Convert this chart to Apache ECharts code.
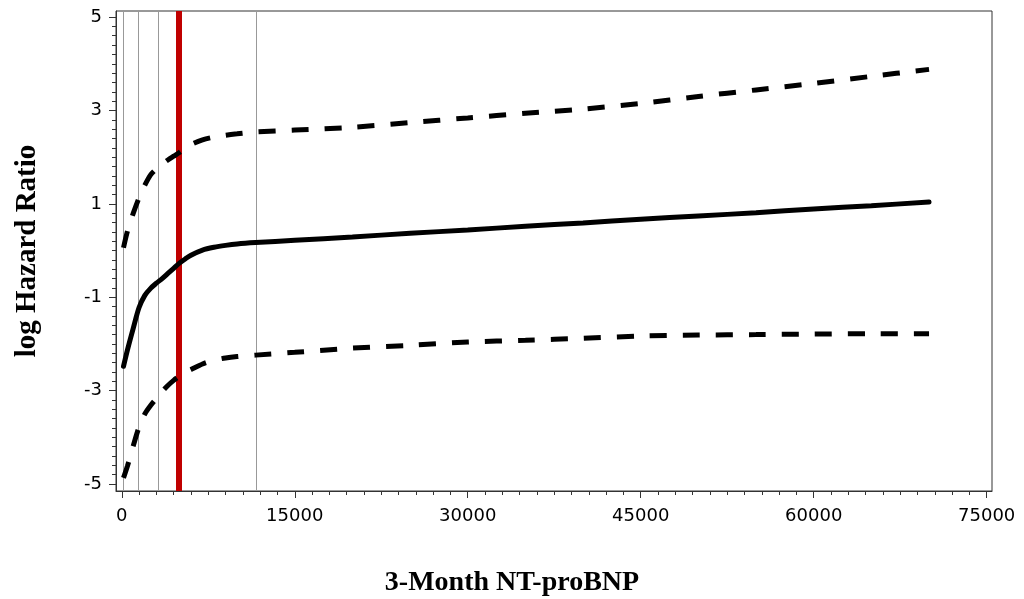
<!DOCTYPE html>
<html>
<head>
<meta charset="utf-8">
<script src="https://cdn.jsdelivr.net/npm/echarts@6/dist/echarts.min.js"></script>
<style>
html,body{margin:0;padding:0;background:#fff;}
#c{width:1024px;height:599px;}
</style>
</head>
<body>
<div id="c"></div>
<script>
// ---- data ----
const ntprobnp = [150, 500, 1000, 1500, 2000, 2500, 3000, 3500, 4000, 4500, 5000, 5500, 6000, 7000, 8000, 9000, 10000, 11600, 15000, 20000, 25000, 30000, 35000, 40000, 45000, 50000, 55000, 60000, 65000, 70000];
const logHR    = [-2.48, -2.12, -1.66, -1.22, -0.96, -0.81, -0.70, -0.60, -0.49, -0.38, -0.27, -0.18, -0.10, 0.01, 0.07, 0.11, 0.14, 0.17, 0.22, 0.29, 0.37, 0.44, 0.52, 0.59, 0.67, 0.74, 0.81, 0.89, 0.96, 1.04];
const upperCI  = [0.06, 0.42, 0.80, 1.13, 1.40, 1.62, 1.75, 1.85, 1.94, 2.02, 2.10, 2.19, 2.27, 2.37, 2.43, 2.47, 2.50, 2.54, 2.58, 2.64, 2.74, 2.84, 2.94, 3.03, 3.15, 3.30, 3.44, 3.58, 3.73, 3.88];
const lowerCI  = [-4.87, -4.61, -4.18, -3.78, -3.50, -3.32, -3.17, -3.02, -2.89, -2.78, -2.69, -2.61, -2.55, -2.43, -2.35, -2.30, -2.27, -2.24, -2.18, -2.09, -2.03, -1.96, -1.92, -1.88, -1.83, -1.81, -1.80, -1.79, -1.78, -1.78];
const knots = [140, 1440, 3170, 11620];
const cutoff = 4900;
const xMajorTicks = [0, 15000, 30000, 45000, 60000, 75000];
const yMajorTicks = [-5, -3, -1, 1, 3, 5];
const xTitle = '3-Month NT-proBNP';
const yTitle = 'log Hazard Ratio';

// ---- build ----
const xMinor = []; for (let v = 0; v <= 75000; v += 1500) xMinor.push(v);
const yMinor = []; for (let i = -25; i <= 25; i++) yMinor.push(+(i * 0.2).toFixed(1));
const pairs = ys => ntprobnp.map((x, i) => [x, ys[i]]);
const X_MIN = -500, X_MAX = 75460, Y_MIN = -5.15, Y_MAX = 5.13;
const axisCol = '#333';
const tickFont = { fontFamily: 'DejaVu Sans', fontSize: 18, color: '#000' };
const plain = v => String(v);

const chart = echarts.init(document.getElementById('c'), null, { renderer: 'canvas' });
chart.setOption({
  animation: false,
  backgroundColor: '#fff',
  grid: { left: 116, right: 32, top: 11, bottom: 108, outerBoundsMode: 'none', containLabel: false,
          show: true, borderColor: axisCol, borderWidth: 1, backgroundColor: 'transparent' },
  xAxis: [
    { type: 'value', min: X_MIN, max: X_MAX, position: 'bottom',
      axisLine: { show: true, onZero: false, lineStyle: { color: axisCol, width: 1 } },
      axisTick: { show: true, length: 7, customValues: xMajorTicks, lineStyle: { color: axisCol } },
      axisLabel: { show: true, customValues: xMajorTicks, margin: 16, formatter: plain, ...tickFont },
      splitLine: { show: false } },
    { type: 'value', min: X_MIN, max: X_MAX, position: 'bottom',
      axisLine: { show: false, onZero: false },
      axisTick: { show: true, length: 4, customValues: xMinor, lineStyle: { color: axisCol } },
      axisLabel: { show: false }, splitLine: { show: false } }
  ],
  yAxis: [
    { type: 'value', min: Y_MIN, max: Y_MAX, position: 'left',
      name: yTitle, nameLocation: 'middle', nameGap: 74, nameRotate: 90,
      nameTextStyle: { fontFamily: 'Liberation Serif', fontWeight: 'bold', fontSize: 29, color: '#000' },
      axisLine: { show: true, onZero: false, lineStyle: { color: axisCol, width: 1 } },
      axisTick: { show: true, length: 7, customValues: yMajorTicks, lineStyle: { color: axisCol } },
      axisLabel: { show: true, customValues: yMajorTicks, margin: 14, formatter: plain, ...tickFont },
      splitLine: { show: false } },
    { type: 'value', min: Y_MIN, max: Y_MAX, position: 'left',
      axisLine: { show: false, onZero: false },
      axisTick: { show: true, length: 4, customValues: yMinor, lineStyle: { color: axisCol } },
      axisLabel: { show: false }, splitLine: { show: false } }
  ],
  graphic: [
    { type: 'text', x: 512, y: 583, style: { text: xTitle, fontFamily: 'Liberation Serif', fontWeight: 'bold', fontSize: 28, fill: '#000', textAlign: 'center', textVerticalAlign: 'middle' } }
  ],
  series: [
    { type: 'line', name: 'knots', data: [], xAxisIndex: 0, yAxisIndex: 0, silent: true, z: 1,
      markLine: { silent: true, symbol: 'none', label: { show: false },
        lineStyle: { color: '#999', width: 1, type: 'solid' },
        data: knots.map(k => ({ xAxis: k })) } },
    { type: 'line', name: 'cutoff', data: [], xAxisIndex: 0, yAxisIndex: 0, silent: true, z: 2,
      markLine: { silent: true, symbol: 'none', label: { show: false },
        lineStyle: { color: '#c00000', width: 6, type: 'solid' },
        data: [{ xAxis: cutoff }] } },
    { type: 'line', name: 'Upper', data: pairs(upperCI), smooth: 0.3, showSymbol: false, z: 5,
      lineStyle: { color: '#000', width: 5, type: [17, 16], cap: 'butt' } },
    { type: 'line', name: 'Estimate', data: pairs(logHR), smooth: 0.3, showSymbol: false, z: 5,
      lineStyle: { color: '#000', width: 5, cap: 'round' } },
    { type: 'line', name: 'Lower', data: pairs(lowerCI), smooth: 0.3, showSymbol: false, z: 5,
      lineStyle: { color: '#000', width: 5, type: [17, 16], cap: 'butt' } }
  ]
});
</script>
</body>
</html>
